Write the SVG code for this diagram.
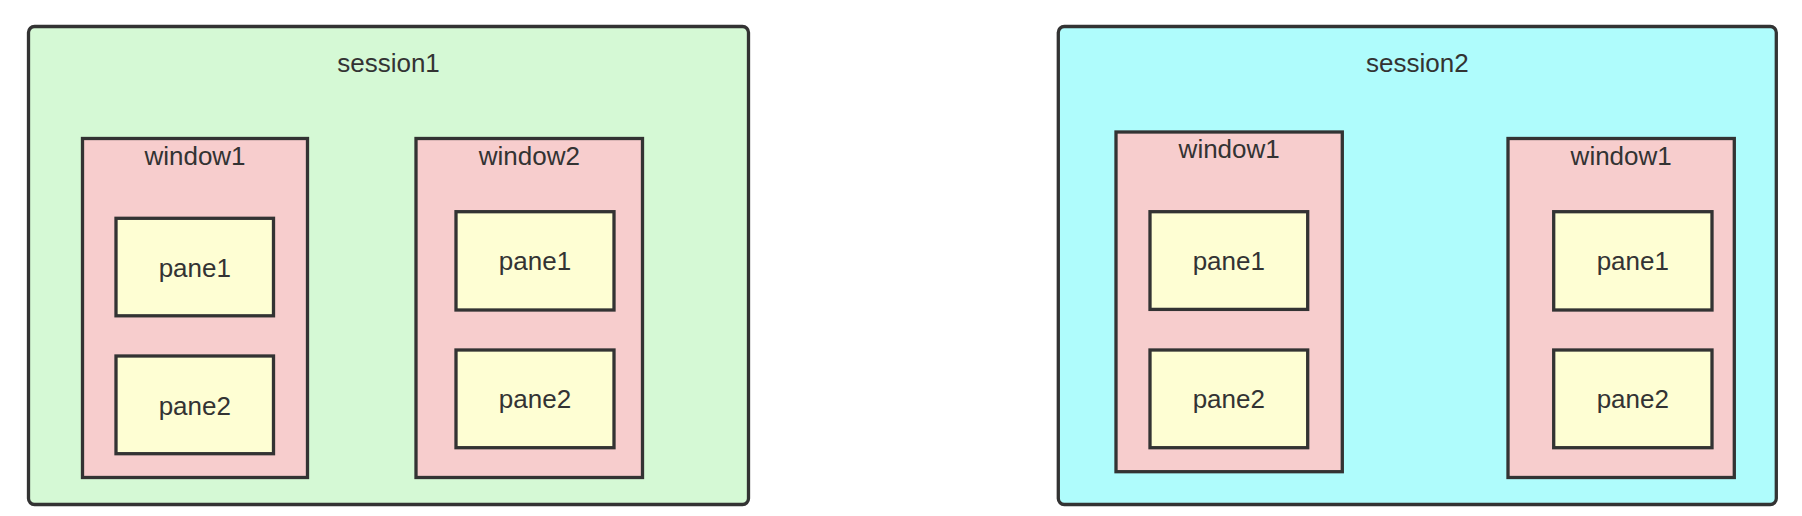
<svg xmlns="http://www.w3.org/2000/svg" width="1802" height="516" viewBox="0 0 1802 516">
<style>
.box{stroke:#333;stroke-width:3.3}
.s1{fill:#d5f9d5}
.s2{fill:#affcfc}
.win{fill:#f7cdcd}
.pane{fill:#fefed3}
text{font-family:"Liberation Sans",Arial,sans-serif;font-size:26px;fill:#333;text-anchor:middle}
</style>
<rect width="1802" height="516" fill="#ffffff"/>
<g id="session1">
<rect class="box s1" x="28.5" y="26.5" width="720" height="478" rx="6"/>
<text x="388.5" y="71.7">session1</text>
</g>
<g id="session1-window1">
<rect class="box win" x="82.5" y="138.5" width="225" height="339"/>
<text x="195" y="164.5">window1</text>
</g>
<g id="session1-window1-pane1">
<rect class="box pane" x="116" y="218.3" width="157.5" height="97.5"/>
<text x="194.8" y="276.5">pane1</text>
</g>
<g id="session1-window1-pane2">
<rect class="box pane" x="116" y="356" width="157.5" height="97.7"/>
<text x="194.8" y="414.5">pane2</text>
</g>
<g id="session1-window2">
<rect class="box win" x="416" y="138.5" width="226.5" height="339"/>
<text x="529.3" y="164.5">window2</text>
</g>
<g id="session1-window2-pane1">
<rect class="box pane" x="456" y="211.7" width="158" height="98.3"/>
<text x="535" y="270.3">pane1</text>
</g>
<g id="session1-window2-pane2">
<rect class="box pane" x="456" y="350" width="158" height="97.7"/>
<text x="535" y="408.3">pane2</text>
</g>
<g id="session2">
<rect class="box s2" x="1058.3" y="26.5" width="718" height="478" rx="6"/>
<text x="1417.3" y="71.7">session2</text>
</g>
<g id="session2-window1">
<rect class="box win" x="1116" y="132" width="226.3" height="339.7"/>
<text x="1229.2" y="158.3">window1</text>
</g>
<g id="session2-window1-pane1">
<rect class="box pane" x="1150" y="211.7" width="157.7" height="97.7"/>
<text x="1228.8" y="270">pane1</text>
</g>
<g id="session2-window1-pane2">
<rect class="box pane" x="1150" y="350" width="157.7" height="97.7"/>
<text x="1228.8" y="408.3">pane2</text>
</g>
<g id="session2-window1b">
<rect class="box win" x="1508" y="138.5" width="226.3" height="339"/>
<text x="1621.2" y="164.5">window1</text>
</g>
<g id="session2-window1b-pane1">
<rect class="box pane" x="1553.7" y="211.7" width="158.3" height="98.3"/>
<text x="1632.8" y="270.3">pane1</text>
</g>
<g id="session2-window1b-pane2">
<rect class="box pane" x="1553.7" y="350" width="158.3" height="97.7"/>
<text x="1632.8" y="408.3">pane2</text>
</g>
<g id="connectors"></g>
</svg>
